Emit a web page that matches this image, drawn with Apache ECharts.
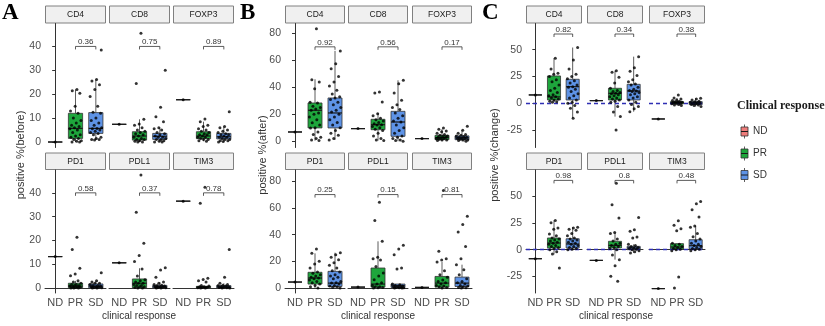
<!DOCTYPE html>
<html>
<head>
<meta charset="utf-8">
<script src="https://cdn.jsdelivr.net/npm/echarts@6/dist/echarts.min.js"></script>
<style>
html, body { margin: 0; padding: 0; background: #fff; }
#main { width: 825px; height: 326px; }
</style>
</head>
<body>
<div id="main"></div>
<script>
// ---- data ----
var groups = ['ND', 'PR', 'SD'];
var markers = ['CD4', 'CD8', 'FOXP3', 'PD1', 'PDL1', 'TIM3'];
var yTicksA = [0, 10, 20, 30, 40];
var yTicksB = [0, 20, 40, 60, 80];
var yTicksC = [-25, 0, 25, 50];

var pA = ['0.36', '0.75', '0.89', '0.58', '0.37', '0.78'];
var pB = ['0.92', '0.56', '0.17', '0.25', '0.15', '0.81'];
var pC = ['0.82', '0.34', '0.38', '0.98', '0.8', '0.48'];

// ND: single patient per marker
var ndA = [0, 7.4, 17.7, 13.2, 10.6, 36.5];
var ndB = [6.9, 9.4, 2.0, 4.5, 0.7, 0.5];
var ndC = [7.8, 2.5, -14.6, -8.4, -10, -36.3];

// box stats per marker: [lower whisker, Q1, median, Q3, upper whisker]
var boxA_PR = [[0, 1.5, 5.7, 12, 22], [0, 0.8, 2.5, 4.3, 9.5], [0.3, 1.4, 2.5, 4.3, 8.5], [0, 0.1, 0.8, 2, 3], [0, 0.1, 2, 3.8, 8.3], [0, 0.1, 0.4, 0.7, 1]];
var boxA_SD = [[0.8, 3.6, 5.7, 12.3, 26.2], [0, 1.1, 2.4, 3.6, 6], [0, 1.3, 2.2, 3.6, 6.5], [0, 0.1, 0.8, 1.7, 3], [0, 0.1, 0.5, 1.1, 2.5], [0, 0.1, 0.4, 1, 2]];
var boxB_PR = [[0.5, 9.9, 23, 28.4, 46], [0.5, 8.6, 12.3, 16.3, 21], [0.5, 1.2, 2.7, 4.4, 9], [0, 3, 7.5, 11.8, 26], [0, 0.7, 3, 15, 35], [0, 0.7, 3.7, 8.7, 19.5]];
var boxB_SD = [[1, 9.9, 21, 32.1, 67], [0, 3.7, 14.3, 22.2, 45.2], [0, 1.2, 2.5, 4, 8.1], [0, 1.2, 3.7, 12.5, 26.5], [0, 0.5, 1.7, 3, 3], [0, 1.2, 3.7, 8.2, 17.5]];
var boxC_PR = [[1, 3.1, 6, 25.5, 42], [-12.4, 3.1, 9.3, 14, 30.4], [-2, -0.6, 0.6, 1.6, 5], [-4.5, 1.6, 6.2, 10.9, 27.3], [-9.3, 1.6, 4, 7.8, 16.1], [-1, 0.6, 2.5, 5.6, 6]];
var boxC_SD = [[-14, 3.1, 15.5, 22.4, 52], [-7.8, 3.1, 11.5, 17.7, 43.5], [-3, -1.2, 0.3, 1.6, 4.7], [0, 1.6, 5.3, 10.2, 21], [-3, 0, 1.6, 3.1, 5], [-1, 0.6, 3.7, 9.3, 22]];

// individual patients per marker
var ptsA_PR = [
    [22, 21.5, 20.4, 15, 13, 12, 10, 9, 8, 7, 6.5, 6, 5.5, 5, 4, 3, 2.5, 2, 1.5, 1, 0.5, 0.3, 0, 0],
    [45.5, 24.5, 9.5, 7.5, 7, 6, 5, 4.5, 4, 3.5, 3, 2.5, 2, 1.5, 1, 1, 0.5, 0.3, 0, 0],
    [9.6, 8.5, 7, 6.5, 5.5, 5, 4.5, 4, 3.5, 3, 3, 2.5, 2, 2, 1.5, 1, 1, 0.5, 0.3],
    [21.3, 16.2, 8.3, 5.9, 5.2, 3, 2.5, 2, 1.5, 1.5, 1, 1, 0.8, 0.5, 0.5, 0.3, 0.2, 0, 0, 0],
    [47.5, 31.8, 18.8, 13.7, 11.1, 8, 5, 3.5, 3, 2.5, 2, 2, 1.5, 1, 1, 0.5, 0.5, 0.2, 0, 0],
    [42.3, 35.6, 4.1, 3.6, 3.1, 2.5, 1, 0.8, 0.5, 0.5, 0.3, 0.2, 0.1, 0, 0]
];
var ptsA_SD = [
    [38.5, 26.2, 25.5, 24, 22, 19, 15, 12.5, 12, 10, 9, 8, 7, 6, 5.7, 5.5, 5, 4.5, 4, 3.6, 3, 2, 1.5, 1, 1, 0.8],
    [30, 14.5, 10.6, 8.5, 6, 5.5, 5, 4, 3.5, 3, 2.5, 2, 2, 1.5, 1, 1, 0.5, 0.3, 0, 0],
    [12.7, 6.5, 6, 5, 4.5, 4, 3.5, 3, 3, 2.5, 2, 2, 1.5, 1, 1, 0.5, 0.5, 0.2, 0],
    [6.4, 3, 2.5, 2, 2, 1.5, 1, 1, 0.8, 0.5, 0.5, 0.3, 0.2, 0.1, 0, 0],
    [8.5, 7.6, 4.5, 2.5, 2, 1.5, 1.2, 1, 0.8, 0.5, 0.5, 0.3, 0.2, 0.1, 0, 0],
    [16.2, 4.5, 2, 1.5, 1.2, 1, 0.8, 0.5, 0.5, 0.3, 0.2, 0.1, 0, 0]
];
var ptsB_PR = [
    [83.5, 45.7, 44, 39, 29, 28.4, 26, 25, 24, 23, 21, 20, 18, 16, 13.8, 12, 10, 9.9, 6.9, 5, 3, 2, 1, 0.5],
    [36.5, 35.8, 29.1, 20.5, 19, 17, 16, 15, 14, 13, 12.3, 12, 11, 10, 9, 8, 6, 4, 2, 1, 0.5],
    [9.9, 9, 7.7, 7, 6, 5, 4.5, 4, 3.5, 3, 3, 2.5, 2, 2, 1.5, 1, 1, 0.5],
    [29.3, 26, 20, 18, 15, 12, 11, 10, 9, 8, 7.5, 7, 6, 5, 4, 3, 2, 1, 0],
    [64.2, 50.5, 35, 23, 22, 21, 16.2, 11.2, 9, 6.2, 4, 3, 2, 1, 1, 0.5, 0.3, 0],
    [73, 27.5, 22, 21, 19.5, 13, 10, 8, 6, 5, 4, 3, 2, 1.5, 1, 0.5, 0]
];
var ptsB_SD = [
    [67, 57.5, 53.8, 48, 44, 41, 37.8, 35, 33, 32, 31, 29, 27, 25, 23, 21.7, 20, 18, 16, 14, 12, 10, 8, 6, 4.4, 2, 1],
    [45.2, 42.7, 35.8, 30.4, 27, 25, 23.5, 21, 19, 17, 15, 14.3, 12, 10, 8, 6, 4, 3, 2, 1, 0.5, 0],
    [11.1, 8.1, 6, 5, 4.5, 4, 3.5, 3, 3, 2.5, 2, 2, 1.5, 1, 1, 0.5, 0],
    [26.5, 25, 23, 21.2, 19, 17, 15, 13, 12, 10, 9, 8, 7, 5, 4, 3.7, 3, 2, 1.5, 1, 0.5, 0],
    [32, 29.2, 25, 15, 14.2, 3, 2.5, 2, 1.5, 1.2, 1, 0.8, 0.5, 0.3, 0.2, 0, 0],
    [53.7, 47.5, 42, 31.2, 22, 17.5, 13.7, 10, 7, 5, 4, 3, 2, 1.5, 1, 0.5, 0.3, 0]
];
var ptsC_PR = [
    [42, 32, 28, 27, 25, 22, 20, 17, 14, 12, 10, 8, 7, 6, 5, 4, 3, 2, 1.5, 1],
    [30.4, 29, 24.2, 19, 14, 12, 11, 10, 9.3, 9, 8, 7, 6, 5, 4, 3, 2, 1, -3, -8, -12.4, -24.8],
    [7.8, 5, 4, 3, 2.5, 2, 1.5, 1, 1, 0.5, 0, 0, -0.5, -1, -1.5, -2],
    [27.3, 25, 20.2, 19, 14.6, 13, 11, 10, 9, 8, 7, 6, 5, 4, 3, 2, 1, 0, -2, -4, -17],
    [62, 42, 29.5, 16.1, 15, 10, 8, 6, 5, 4, 3, 2, 1, 0, -5, -9.3, -14.9, -24.8, -29.5],
    [27, 22.7, 19.6, 17.7, 6, 5, 4, 3, 2, 1, 0.5, 0, -1, -25.5, -35.7]
];
var ptsC_SD = [
    [52, 40.4, 32, 27, 25, 23, 21, 19, 17, 15.5, 15, 13, 11, 9, 7, 5, 3, 1, 0, -2, -4.7, -8, -14],
    [43.5, 33.2, 30, 26, 22, 20, 18, 17, 15, 13, 12, 11.5, 11, 10, 9, 8, 6, 5, 3, 1, -1, -3, -5, -7.8],
    [4.7, 4, 3, 2, 1.5, 1, 0.5, 0, 0, -0.5, -1, -1.5, -2, -3],
    [21, 20.2, 19, 18, 15, 13, 11, 10, 9, 8, 7, 6, 5, 4, 3, 2, 1, 0.5, 0],
    [30.1, 18.6, 17.1, 11.8, 11, 5, 4, 3, 2, 1.5, 1, 0.5, 0, -1, -2, -3],
    [45, 42.9, 37.3, 30.4, 22, 20.8, 15, 12, 10, 8, 6, 5, 4, 3, 2, 1, 0.5, 0, -1]
];

// ---- layout / style ----
var groupColors = ['#EE7D7B', '#1EA63C', '#5E93E6'];
var FONT = '"Liberation Sans", Arial, sans-serif';
var rowTop = [23.5, 170];
var rowH = [124, 123];
var stripTop = [5.5, 152.5];
var stripH = [18, 17.5];

var panels = [
    {letter: 'A', letterX: 2, title: 'positive %(before)', titleX: 21, xTitleX: 139,
     lefts: [45, 109, 173], w: 61, ranges: [[-2.3, 49.6], [-2.1, 49.6]], ticks: yTicksA, bracket: 40,
     nd: ndA, boxPR: boxA_PR, boxSD: boxA_SD, ptsPR: ptsA_PR, ptsSD: ptsA_SD, p: pA, zero: false},
    {letter: 'B', letterX: 240, title: 'positive %(after)', titleX: 263, xTitleX: 378,
     lefts: [285, 348, 412], w: 60, ranges: [[-4.6, 87.3], [-3.7, 88.4]], ticks: yTicksB, bracket: 70,
     nd: ndB, boxPR: boxB_PR, boxSD: boxB_SD, ptsPR: ptsB_PR, ptsSD: ptsB_SD, p: pB, zero: false},
    {letter: 'C', letterX: 482, title: 'positive %(change)', titleX: 495, xTitleX: 616,
     lefts: [526, 587, 649], w: 56, ranges: [[-41.2, 74.4], [-40.4, 74.3]], ticks: yTicksC, bracket: 64.6,
     nd: ndC, boxPR: boxC_PR, boxSD: boxC_SD, ptsPR: ptsC_PR, ptsSD: ptsC_SD, p: pC, zero: true}
];

// horizontal spread of the jittered dots (display only)
function jitter(i) {
    var f = ((i + 1) * 0.6180339887) % 1;
    return (f - 0.5) * 0.6;
}

function renderBox(params, api) {
    var k = api.value(0);
    var lo = api.coord([k, api.value(1)]);
    var q1 = api.coord([k, api.value(2)]);
    var md = api.coord([k, api.value(3)]);
    var q3 = api.coord([k, api.value(4)]);
    var hi = api.coord([k, api.value(5)]);
    var hw = api.size([0.7, 0])[0] / 2;
    var x = lo[0];
    var line = {stroke: '#333', lineWidth: 0.8};
    return {
        type: 'group',
        children: [
            {type: 'line', shape: {x1: x, y1: hi[1], x2: x, y2: q3[1]}, style: line},
            {type: 'line', shape: {x1: x, y1: q1[1], x2: x, y2: lo[1]}, style: line},
            {type: 'rect', shape: {x: x - hw, y: q3[1], width: hw * 2, height: q1[1] - q3[1]},
             style: {fill: groupColors[k], stroke: '#333', lineWidth: 0.8}},
            {type: 'line', shape: {x1: x - hw, y1: md[1], x2: x + hw, y2: md[1]}, style: {stroke: '#1a1a1a', lineWidth: 1.2}}
        ]
    };
}

function makeBracket(label) {
    return function (params, api) {
        var a = api.coord([api.value(0), api.value(2)]);
        var b = api.coord([api.value(1), api.value(2)]);
        return {
            type: 'group',
            children: [
                {type: 'polyline', shape: {points: [[a[0], a[1] + 3], [a[0], a[1]], [b[0], b[1]], [b[0], b[1] + 3]]},
                 style: {stroke: '#333', lineWidth: 0.8, fill: 'none'}},
                {type: 'text', x: (a[0] + b[0]) / 2, y: a[1] - 0.3,
                 style: {text: label, fill: '#333', font: '8px ' + FONT, align: 'center', verticalAlign: 'bottom'}}
            ]
        };
    };
}

var grids = [], xAxes = [], yAxes = [], series = [], graphics = [];

panels.forEach(function (pn) {
    for (var m = 0; m < 6; m++) {
        var r = m < 3 ? 0 : 1;
        var c = m % 3;
        var g = grids.length;

        grids.push({left: pn.lefts[c], top: rowTop[r], width: pn.w, height: rowH[r], containLabel: false, outerBoundsMode: 'none'});

        xAxes.push({
            type: 'category', gridIndex: g, data: groups, boundaryGap: true, show: r === 1,
            axisLine: {lineStyle: {color: '#333', width: 1}},
            axisTick: {alignWithLabel: true, interval: 0, length: 3, lineStyle: {color: '#333'}},
            axisLabel: {interval: 0, hideOverlap: false, color: '#4d4d4d', fontSize: 11, margin: 4, fontFamily: FONT},
            splitLine: {show: false}
        });
        xAxes.push({type: 'value', gridIndex: g, min: -0.5, max: 2.5, show: false, splitLine: {show: false}});

        yAxes.push({
            type: 'value', gridIndex: g, min: pn.ranges[r][0], max: pn.ranges[r][1], show: c === 0,
            axisLine: {show: true, lineStyle: {color: '#333', width: 1}},
            axisTick: {show: true, length: 3, lineStyle: {color: '#333'}, customValues: pn.ticks},
            axisLabel: {show: true, color: '#4d4d4d', fontSize: 10.5, margin: 4, fontFamily: FONT, customValues: pn.ticks},
            splitLine: {show: false}
        });

        // boxes
        var nd = pn.nd[m];
        series.push({
            type: 'custom', xAxisIndex: 2 * g + 1, yAxisIndex: g, silent: true, z: 2,
            renderItem: renderBox,
            encode: {x: 0, y: [1, 2, 3, 4, 5]},
            data: [
                [0, nd, nd, nd, nd, nd],
                [1].concat(pn.boxPR[m]),
                [2].concat(pn.boxSD[m])
            ]
        });

        // jittered points
        var pts = [[0, nd]];
        pn.ptsPR[m].forEach(function (v, i) { pts.push([1 + jitter(i), v]); });
        pn.ptsSD[m].forEach(function (v, i) { pts.push([2 + jitter(i + 7), v]); });
        var sc = {
            type: 'scatter', xAxisIndex: 2 * g + 1, yAxisIndex: g, silent: true, z: 4,
            symbolSize: 3, itemStyle: {color: '#000'}, data: pts
        };
        if (pn.zero) {
            sc.markLine = {
                silent: true, symbol: ['none', 'none'], label: {show: false}, z: 3,
                lineStyle: {color: '#2f2fb4', type: [4, 3], width: 1.3, opacity: 1},
                data: [{yAxis: 0}]
            };
        }
        series.push(sc);

        // p-value bracket PR vs SD
        series.push({
            type: 'custom', xAxisIndex: 2 * g + 1, yAxisIndex: g, silent: true, z: 5,
            renderItem: makeBracket(pn.p[m]),
            encode: {x: [0, 1], y: 2},
            data: [[1, 2, pn.bracket]]
        });

        // facet strip
        graphics.push({type: 'rect', silent: true,
            shape: {x: pn.lefts[c] + 0.5, y: stripTop[r] + 0.5, width: pn.w - 1, height: stripH[r] - 1},
            style: {fill: '#f0f0f0', stroke: '#808080', lineWidth: 1}});
        graphics.push({type: 'text', silent: true,
            x: pn.lefts[c] + pn.w / 2, y: stripTop[r] + stripH[r] / 2,
            style: {text: markers[m], font: '8.5px ' + FONT, fill: '#1a1a1a', align: 'center', verticalAlign: 'middle'}});
    }

    // panel letter, axis titles
    graphics.push({type: 'text', silent: true, x: pn.letterX, y: 2,
        style: {text: pn.letter, font: 'bold 23px "Liberation Serif", "Times New Roman", serif', fill: '#000', align: 'left', verticalAlign: 'top'}});
    graphics.push({type: 'text', silent: true, x: pn.titleX, y: 155, rotation: Math.PI / 2,
        style: {text: pn.title, font: '11px ' + FONT, fill: '#333', align: 'center', verticalAlign: 'middle'}});
    graphics.push({type: 'text', silent: true, x: pn.xTitleX, y: 316,
        style: {text: 'clinical response', font: '10px ' + FONT, fill: '#333', align: 'center', verticalAlign: 'middle'}});
});

// legend
graphics.push({type: 'text', silent: true, x: 737, y: 106,
    style: {text: 'Clinical response', font: 'bold 12px "Liberation Serif", "Times New Roman", serif', fill: '#1a1a1a', align: 'left', verticalAlign: 'middle'}});
var legendY = [131.5, 153.5, 175];
groups.forEach(function (name, i) {
    var cy = legendY[i];
    graphics.push({type: 'line', silent: true, shape: {x1: 744.5, y1: cy - 7, x2: 744.5, y2: cy + 7}, style: {stroke: '#333', lineWidth: 0.8}});
    graphics.push({type: 'rect', silent: true, shape: {x: 741, y: cy - 4.5, width: 7, height: 9}, style: {fill: groupColors[i], stroke: '#333', lineWidth: 0.8}});
    graphics.push({type: 'line', silent: true, shape: {x1: 741, y1: cy, x2: 748, y2: cy}, style: {stroke: '#1a1a1a', lineWidth: 1}});
    graphics.push({type: 'text', silent: true, x: 753, y: cy,
        style: {text: name, font: '10px "Liberation Sans Narrow", ' + FONT, fill: '#333', align: 'left', verticalAlign: 'middle'}});
});

var chart = echarts.init(document.getElementById('main'), null, {renderer: 'canvas'});
chart.setOption({
    animation: false,
    backgroundColor: '#fff',
    textStyle: {fontFamily: FONT},
    grid: grids,
    xAxis: xAxes,
    yAxis: yAxes,
    series: series,
    graphic: graphics
});
</script>
</body>
</html>
